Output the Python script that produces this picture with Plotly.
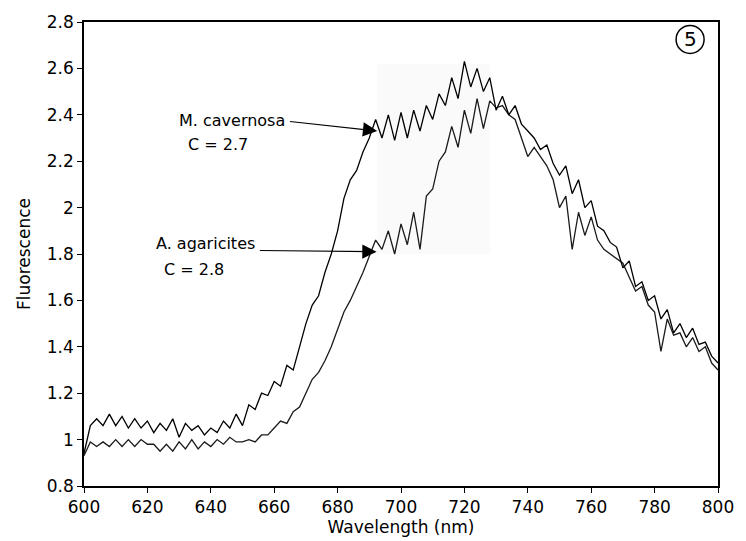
import plotly.graph_objects as go

wavelength = list(range(600, 801, 2))

m_cavernosa = [
    0.94, 1.06, 1.09, 1.06, 1.11, 1.06, 1.10, 1.05, 1.09, 1.05,
    1.08, 1.03, 1.07, 1.04, 1.09, 1.01, 1.07, 1.04, 1.06, 1.02,
    1.05, 1.03, 1.08, 1.05, 1.11, 1.06, 1.15, 1.13, 1.20, 1.19,
    1.25, 1.23, 1.32, 1.30, 1.40, 1.50, 1.58, 1.62, 1.72, 1.80,
    1.90, 2.04, 2.12, 2.16, 2.24, 2.30, 2.38, 2.30, 2.40, 2.29,
    2.41, 2.30, 2.42, 2.33, 2.44, 2.38, 2.49, 2.44, 2.56, 2.47,
    2.63, 2.52, 2.60, 2.50, 2.56, 2.42, 2.48, 2.40, 2.44, 2.36,
    2.33, 2.30, 2.25, 2.27, 2.19, 2.14, 2.18, 2.06, 2.12, 2.00,
    2.03, 1.92, 1.90, 1.85, 1.83, 1.74, 1.77, 1.66, 1.68, 1.60,
    1.62, 1.52, 1.56, 1.46, 1.50, 1.44, 1.48, 1.41, 1.42, 1.36,
    1.33,
]

a_agaricites = [
    0.93, 0.99, 0.97, 0.99, 0.97, 1.00, 0.97, 1.00, 0.97, 1.00,
    0.98, 0.98, 0.95, 0.98, 0.95, 0.99, 0.96, 1.00, 0.96, 0.99,
    0.97, 1.00, 0.98, 1.01, 0.99, 0.99, 1.00, 0.99, 1.02, 1.02,
    1.05, 1.08, 1.07, 1.12, 1.14, 1.20, 1.26, 1.29, 1.34, 1.40,
    1.48, 1.55, 1.60, 1.66, 1.72, 1.79, 1.86, 1.82, 1.90, 1.80,
    1.93, 1.84, 1.98, 1.82, 2.05, 2.08, 2.20, 2.24, 2.35, 2.26,
    2.42, 2.32, 2.47, 2.34, 2.46, 2.43, 2.44, 2.40, 2.38, 2.30,
    2.22, 2.26, 2.22, 2.18, 2.12, 2.00, 2.05, 1.82, 1.98, 1.88,
    1.96, 1.86, 1.82, 1.80, 1.78, 1.76, 1.70, 1.64, 1.66, 1.58,
    1.55, 1.38, 1.52, 1.45, 1.46, 1.40, 1.44, 1.38, 1.40, 1.33,
    1.30,
]

x_ticks = [600, 620, 640, 660, 680, 700, 720, 740, 760, 780, 800]
y_ticks = [0.8, 1.0, 1.2, 1.4, 1.6, 1.8, 2.0, 2.2, 2.4, 2.6, 2.8]
y_tick_labels = ["0.8", "1", "1.2", "1.4", "1.6", "1.8", "2", "2.2", "2.4", "2.6", "2.8"]

FONT = "DejaVu Sans, Verdana, sans-serif"

fig = go.Figure()

# faint scan-shading rectangle
fig.add_shape(type="rect", xref="x", yref="y", x0=692.5, x1=728.2, y0=1.80, y1=2.62,
              fillcolor="rgb(250,250,250)", line=dict(width=0), layer="below")

fig.add_trace(go.Scatter(x=wavelength, y=a_agaricites, mode="lines",
                         line=dict(color="#1a1a1a", width=1.3), name="A. agaricites",
                         showlegend=False))
fig.add_trace(go.Scatter(x=wavelength, y=m_cavernosa, mode="lines",
                         line=dict(color="#000000", width=1.3), name="M. cavernosa",
                         showlegend=False))

ann_font = dict(family=FONT, size=16, color="black")

# M. cavernosa label + arrow
fig.add_annotation(x=664, y=2.375, xref="x", yref="y", text="M. cavernosa",
                   showarrow=False, xanchor="right", font=ann_font)
fig.add_annotation(x=642.3, y=2.27, xref="x", yref="y", text="C = 2.7",
                   showarrow=False, xanchor="center", font=ann_font)
fig.add_annotation(x=692.5, y=2.33, ax=664.5, ay=2.372, xref="x", yref="y",
                   axref="x", ayref="y", text="", showarrow=True, arrowhead=2,
                   arrowsize=2.6, arrowwidth=1.1, arrowcolor="black")

# A. agaricites label + arrow
fig.add_annotation(x=654.5, y=1.845, xref="x", yref="y", text="A. agaricites",
                   showarrow=False, xanchor="right", font=ann_font)
fig.add_annotation(x=634.7, y=1.734, xref="x", yref="y", text="C = 2.8",
                   showarrow=False, xanchor="center", font=ann_font)
fig.add_annotation(x=692.3, y=1.81, ax=655, ay=1.815, xref="x", yref="y",
                   axref="x", ayref="y", text="", showarrow=True, arrowhead=2,
                   arrowsize=2.6, arrowwidth=1.1, arrowcolor="black")

# circled 5
fig.add_shape(type="circle", xref="x", yref="y", xsizemode="pixel", ysizemode="pixel",
              xanchor=791.2, yanchor=2.725, x0=-14, x1=14, y0=-14, y1=14,
              line=dict(color="black", width=1.5))
fig.add_annotation(x=791.2, y=2.725, xref="x", yref="y", text="5", showarrow=False,
                   font=dict(family=FONT, size=20, color="black"))

fig.update_layout(
    width=746, height=541,
    margin=dict(l=84, r=28, t=17, b=53),
    paper_bgcolor="white", plot_bgcolor="white",
    font=dict(family=FONT, size=17, color="black"),
    showlegend=False,
)
fig.update_xaxes(
    range=[600, 800], tickvals=x_ticks, ticks="outside", ticklen=5, tickwidth=1,
    tickcolor="black", showline=True, linecolor="black", linewidth=1.5, mirror=True,
    showgrid=False, zeroline=False,
    title=dict(text="Wavelength (nm)", font=dict(size=17), standoff=0),
    tickfont=dict(size=17),
)
fig.update_yaxes(
    range=[0.8, 2.8], tickvals=y_ticks, ticktext=y_tick_labels, ticks="outside",
    ticklen=5, tickwidth=1, tickcolor="black", showline=True, linecolor="black",
    linewidth=1.5, mirror=True, showgrid=False, zeroline=False,
    title=dict(text="Fluorescence", font=dict(size=17), standoff=12),
    tickfont=dict(size=17),
)

fig.write_html("out.html")
